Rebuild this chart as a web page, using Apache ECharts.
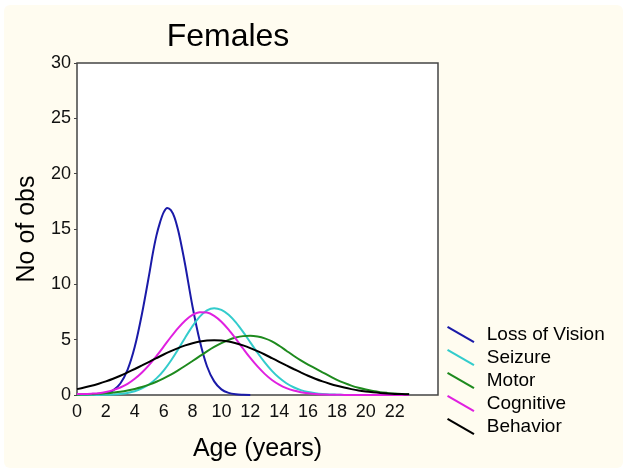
<!DOCTYPE html>
<html>
<head>
<meta charset="utf-8">
<script src="https://cdn.jsdelivr.net/npm/echarts@6/dist/echarts.min.js"></script>
<style>html,body{margin:0;padding:0;background:#fff}#c{width:624px;height:472px}</style>
</head>
<body>
<div id="c"></div>
<script>
var ages = [0,0.5,1,1.5,2,2.5,3,3.5,4,4.5,5,5.5,6,6.5,7,7.5,8,8.5,9,9.5,10,10.5,11,11.5,12,12.5,13,13.5,14,14.5,15,15.5,16,16.5,17,17.5,18,18.5,19,19.5,20,20.5,21,21.5,22,22.5,23];
var visionAges = [0,1,1.5,2,2.5,3,3.5,4,4.5,5,5.25,5.5,5.75,6,6.25,6.5,6.75,7,7.25,7.5,8,8.5,9,9.5,10,10.5,11,11.5,12];
var lossOfVision = [0,0.01,0.05,0.15,0.42,1.04,2.27,4.35,7.34,10.9,12.8,14.4,15.6,16.5,16.9,16.7,16.05,14.9,13.4,11.7,8.0,4.9,2.6,1.23,0.51,0.19,0.06,0.02,0];
var seizure = [0,0,0.01,0.01,0.02,0.05,0.10,0.19,0.34,0.59,0.97,1.50,2.21,3.10,4.11,5.20,6.22,7.08,7.65,7.85,7.69,7.25,6.56,5.70,4.76,3.82,2.95,2.18,1.55,1.06,0.70,0.44,0.27,0.16,0.09,0.05,0.03,0.01,0,0,0,0,0,0,0,0,0];
var motor = [0.03,0.05,0.07,0.11,0.15,0.22,0.30,0.41,0.55,0.72,0.94,1.20,1.50,1.84,2.23,2.64,3.07,3.51,3.94,4.34,4.69,4.98,5.19,5.32,5.35,5.28,5.12,4.85,4.45,4.00,3.55,3.13,2.75,2.40,2.05,1.71,1.37,1.09,0.85,0.65,0.49,0.36,0.26,0.19,0.13,0.09,0.06];
var cognitive = [0.1,0.1,0.12,0.16,0.27,0.44,0.68,1.01,1.47,2.04,2.73,3.52,4.37,5.24,6.05,6.74,7.24,7.48,7.45,7.15,6.62,5.90,5.07,4.20,3.35,2.58,1.91,1.36,0.94,0.62,0.40,0.25,0.15,0.08,0.05,0.03,0.02,0.01,0,0,0,0,0,0,0,0,0];
var behavior = [0.53,0.67,0.83,1.02,1.23,1.47,1.74,2.04,2.35,2.67,3.00,3.33,3.66,3.96,4.24,4.48,4.68,4.83,4.92,4.95,4.92,4.83,4.68,4.48,4.24,3.96,3.66,3.33,3.00,2.67,2.35,2.04,1.74,1.47,1.23,1.02,0.83,0.67,0.53,0.41,0.32,0.25,0.19,0.14,0.10,0.08,0.06];
var seriesNames = ['Loss of Vision','Seizure','Motor','Cognitive','Behavior'];
var seriesColors = ['#1a1aa8','#33cccc','#1e8a1e','#e020e0','#000000'];
var seriesData = [lossOfVision, seizure, motor, cognitive, behavior];
var seriesAges = [visionAges, ages, ages, ages, ages];

var font = 'Liberation Sans, Arial, sans-serif';
var chart = echarts.init(document.getElementById('c'), null, {renderer:'canvas'});
var series = seriesNames.map(function(n,i){
  return {
    name: n, type: 'line', smooth: 0.3, showSymbol: false, symbol: 'none',
    data: seriesAges[i].map(function(a,j){ return [a, seriesData[i][j]]; }),
    lineStyle: {color: seriesColors[i], width: 2},
    itemStyle: {color: seriesColors[i]},
    animation: false
  };
});
chart.setOption({
  animation: false,
  backgroundColor: '#ffffff',
  graphic: [{type:'rect', z:-100, shape:{x:4,y:5,width:619,height:463,r:6}, style:{fill:'#fffcf0'}, silent:true}],
  title: {text:'Females', left: 223, top: 16, textAlign:'center',
    textStyle:{fontFamily:font, fontSize:32, fontWeight:'normal', color:'#000'}},
  grid: {left:77, top:63, width:361, height:332, outerBoundsMode:'none', containLabel:false,
    show:true, backgroundColor:'#ffffff', borderColor:'#444444', borderWidth:1.5},
  xAxis: {type:'value', min:0, max:25, interval:2,
    name:'Age (years)', nameLocation:'middle', nameGap:42,
    nameTextStyle:{fontFamily:font, fontSize:25, color:'#000'},
    axisLine:{show:false}, axisTick:{show:false}, splitLine:{show:false},
    axisLabel:{fontFamily:font, fontSize:18, color:'#111', margin:8,
      formatter:function(v){ return v>22 ? '' : String(v); }}},
  yAxis: {type:'value', min:0, max:30, interval:5,
    name:'No of obs', nameLocation:'middle', nameGap:36, nameRotate:90,
    nameTextStyle:{fontFamily:font, fontSize:25, color:'#000'},
    axisLine:{show:false}, axisTick:{show:true, length:3, lineStyle:{color:'#444'}}, splitLine:{show:false},
    axisLabel:{fontFamily:font, fontSize:18, color:'#111', margin:6}},
  legend: {orient:'vertical', left:442, top:320, itemWidth:28, itemHeight:17, itemGap:4,
    icon:'path://M1.52,0.15 L27.52,15.15 L26.48,16.85 L0.48,1.85 Z',
    itemStyle:{borderWidth:0},
    textStyle:{fontFamily:font, fontSize:19, color:'#000', padding:[0,0,0,7]},
    data: seriesNames},
  series: series
});
</script>
</body>
</html>
